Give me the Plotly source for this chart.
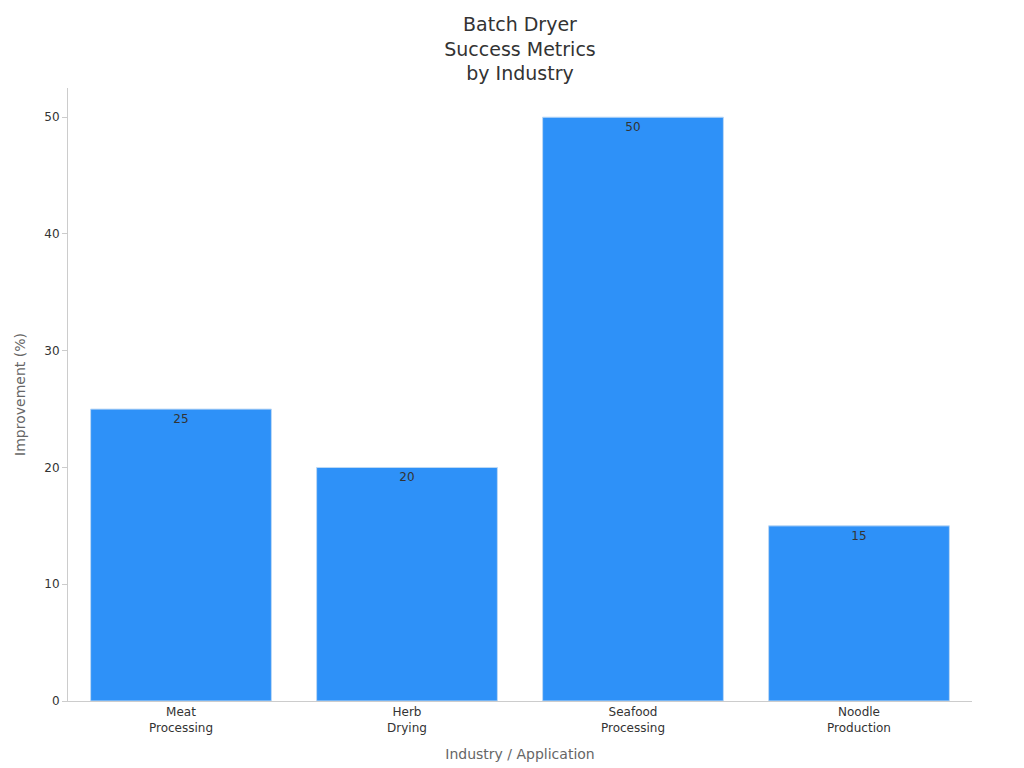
import plotly.graph_objects as go

categories = ["Meat<br>Processing", "Herb<br>Drying", "Seafood<br>Processing", "Noodle<br>Production"]
values = [25, 20, 50, 15]

fig = go.Figure(go.Bar(
    x=categories, y=values,
    text=values, textposition="inside", insidetextanchor="end",
    textfont=dict(color="#333333", size=12),
    marker=dict(color="#2e91f8", line=dict(color="#bcd8f5", width=1)),
    width=0.8,
))

fig.update_layout(
    width=1024, height=768,
    template="plotly_white",
    font=dict(family="DejaVu Sans", color="#333333"),
    title=dict(text="Batch Dryer<br>Success Metrics<br>by Industry", x=0.5, y=0.97,
               xanchor="center", font=dict(size=19)),
    margin=dict(l=60, r=60, t=80, b=75),
    showlegend=False,
)
fig.update_xaxes(title=dict(text="Industry / Application", font=dict(size=14, color="#666666")),
                 showline=True, linecolor="#cccccc", tickfont=dict(size=12), showgrid=False)
fig.update_yaxes(title=dict(text="Improvement (%)", font=dict(size=14, color="#666666")),
                 showline=True, linecolor="#cccccc", ticks="outside", tickcolor="#cccccc",
                 showgrid=False, zeroline=False, range=[0, 52.5], dtick=10, tickfont=dict(size=12))

fig.write_html("out.html")
